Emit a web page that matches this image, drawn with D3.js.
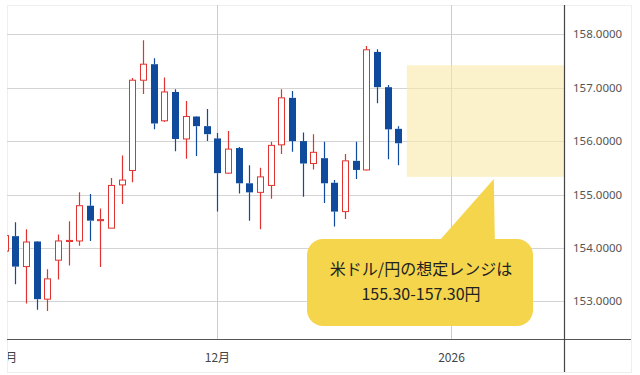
<!DOCTYPE html>
<html>
<head>
<meta charset="utf-8">
<script src="https://cdn.jsdelivr.net/npm/d3@7"></script>
<style>
  body { margin: 0; background: #fff; }
</style>
</head>
<body>
<div id="chart"></div>
<script>
// daily USD/JPY candles (weekdays only)
const dates = ["11/03","11/04","11/05","11/06","11/07","11/10","11/11","11/12","11/13","11/14",
  "11/17","11/18","11/19","11/20","11/21","11/24","11/25","11/26","11/27","11/28",
  "12/01","12/02","12/03","12/04","12/05","12/08","12/09","12/10","12/11","12/12",
  "12/15","12/16","12/17","12/18","12/19","12/22","12/23","12/24"];
const openVals  = [153.94,154.22,153.65,154.12,153.04,153.77,154.12,154.13,154.79,154.51,
  154.37,155.18,155.45,157.14,157.44,156.38,156.92,156.04,156.46,156.28,
  156.05,155.40,155.87,155.21,155.04,155.17,155.93,156.81,156.00,155.58,
  155.68,155.22,154.68,155.63,155.46,157.67,157.01,156.23];
const highVals  = [154.25,154.48,154.35,154.13,153.60,154.25,154.50,155.04,155.01,154.74,
  155.31,155.73,157.18,157.89,157.55,157.19,156.97,156.75,156.47,156.60,
  156.15,156.19,155.89,155.55,155.50,155.99,156.97,156.94,156.16,156.13,
  155.99,155.27,155.76,155.99,157.78,157.72,157.05,156.28];
const lowVals   = [153.90,153.32,152.96,152.84,152.82,153.41,153.67,154.04,154.13,153.64,
  154.37,154.82,155.23,156.88,156.22,156.36,155.81,155.67,155.72,156.00,
  154.68,155.39,155.02,154.51,154.35,154.92,155.76,155.80,154.96,155.47,
  154.84,154.40,154.54,155.29,155.45,156.71,155.66,155.55];
const closeVals = [154.23,153.65,154.11,153.04,153.42,154.13,154.14,154.79,154.51,154.53,
  155.17,155.27,157.14,157.44,156.33,156.92,156.04,156.46,156.28,156.13,
  155.40,155.85,155.21,155.04,155.33,155.92,156.81,156.00,155.58,155.79,
  155.21,154.68,155.63,155.46,157.71,157.01,156.22,155.96];

// axes
const yTicks = [153, 154, 155, 156, 157, 158];
const xTickIdx = [0, 20, 42];
const xTickLabels = ["11月", "12月", "2026"];

// forecast range (shaded zone) and callout
const zoneStartIdx = 37.8;
const zoneHigh = 157.42;
const zoneLow = 155.33;
const calloutLines = ["米ドル/円の想定レンジは", "155.30-157.30円"];

const W = 640, H = 375;
const plot = { left: 7, right: 564.5, top: 5, bottom: 339.5 };

const svg = d3.select("#chart").append("svg")
  .attr("width", W).attr("height", H);

// outer frame
svg.append("rect")
  .attr("x", 7.5).attr("y", 5.5)
  .attr("width", 624).attr("height", 367)
  .attr("fill", "#fff")
  .attr("stroke", "#eeeeee");

const x = d3.scaleLinear().domain([0, 37]).range([4.7, 398.3]);
const y = d3.scaleLinear().domain([153, 158]).range([301.3, 34.3]);

svg.append("clipPath").attr("id", "plotclip")
  .append("rect")
  .attr("x", plot.left).attr("y", plot.top)
  .attr("width", plot.right - plot.left).attr("height", plot.bottom - plot.top);

svg.append("clipPath").attr("id", "frameclip")
  .append("rect")
  .attr("x", 8).attr("y", 5).attr("width", 623).attr("height", 367);

const g = svg.append("g").attr("clip-path", "url(#plotclip)");

// horizontal grid
g.selectAll(".hgrid")
  .data(yTicks)
  .enter().append("line")
  .attr("x1", plot.left).attr("x2", plot.right)
  .attr("y1", d => Math.round(y(d)) + 0.5)
  .attr("y2", d => Math.round(y(d)) + 0.5)
  .attr("stroke", "#d4d4d4");

// vertical grid
g.selectAll(".vgrid")
  .data(xTickIdx)
  .enter().append("line")
  .attr("x1", d => Math.round(x(d)) + 0.5)
  .attr("x2", d => Math.round(x(d)) + 0.5)
  .attr("y1", plot.top).attr("y2", plot.bottom)
  .attr("stroke", "#cccccc");

// range zone
g.append("rect")
  .attr("x", x(zoneStartIdx))
  .attr("y", y(zoneHigh))
  .attr("width", plot.right - x(zoneStartIdx))
  .attr("height", y(zoneLow) - y(zoneHigh))
  .attr("fill", "#f9eaa9")
  .attr("opacity", 0.6);

// candles
const candles = dates.map((d, i) => ({
  date: d, i: i,
  open: openVals[i], high: highVals[i], low: lowVals[i], close: closeVals[i]
}));

const red = "#e0332f", blue = "#0f4a9c";

const cg = g.selectAll(".candle")
  .data(candles)
  .enter().append("g")
  .attr("class", "candle");

cg.each(function(d) {
  const el = d3.select(this);
  const cx = Math.round(x(d.i)) + 0.5;
  const up = d.close >= d.open;
  const col = up ? red : blue;
  const top = y(Math.max(d.open, d.close));
  const bot = y(Math.min(d.open, d.close));
  const bh = Math.max(bot - top, 1);
  // wicks
  el.append("line")
    .attr("x1", cx).attr("x2", cx)
    .attr("y1", y(d.high)).attr("y2", top)
    .attr("stroke", col).attr("stroke-width", 1.2);
  el.append("line")
    .attr("x1", cx).attr("x2", cx)
    .attr("y1", top + bh).attr("y2", y(d.low))
    .attr("stroke", col).attr("stroke-width", 1.2);
  if (up) {
    el.append("rect")
      .attr("x", cx - 3).attr("y", top)
      .attr("width", 6).attr("height", bh)
      .attr("fill", "#fff")
      .attr("stroke", col).attr("stroke-width", 1);
  } else {
    el.append("rect")
      .attr("x", cx - 3.5).attr("y", top)
      .attr("width", 7).attr("height", bh)
      .attr("fill", col);
  }
});

// axes lines
svg.append("line")
  .attr("x1", 7).attr("x2", 631)
  .attr("y1", plot.bottom).attr("y2", plot.bottom)
  .attr("stroke", "#555").attr("stroke-width", 1.2);
svg.append("line")
  .attr("x1", plot.right).attr("x2", plot.right)
  .attr("y1", plot.top).attr("y2", 372)
  .attr("stroke", "#444").attr("stroke-width", 1.2);

// y labels
svg.selectAll(".ylab")
  .data(yTicks)
  .enter().append("text")
  .attr("x", 573)
  .attr("y", d => y(d) + 4)
  .text(d => d.toFixed(4))
  .style("font-family", '"Noto Sans", sans-serif')
  .style("font-size", "11.5px")
  .attr("fill", "#555");

// x labels
svg.append("g").attr("clip-path", "url(#frameclip)")
  .selectAll(".xlab")
  .data(xTickIdx)
  .enter().append("text")
  .attr("x", d => x(d))
  .attr("y", 362)
  .attr("text-anchor", "middle")
  .text((d, i) => xTickLabels[i])
  .style("font-family", '"Noto Sans CJK JP", "Noto Sans", sans-serif')
  .style("font-size", "12px")
  .attr("fill", "#444");

// callout bubble with pointer to the zone
const bub = { x: 307, y: 239, w: 226, h: 87, r: 16 };
svg.append("path")
  .attr("d", `M440,${bub.y + 1} L${x(zoneStartIdx) + 87},179 L${x(zoneStartIdx) + 88},${bub.y + 1} Z`)
  .attr("fill", "#f4d54c");
svg.append("rect")
  .attr("x", bub.x).attr("y", bub.y)
  .attr("width", bub.w).attr("height", bub.h)
  .attr("rx", bub.r)
  .attr("fill", "#f4d54c");

svg.selectAll(".callout")
  .data(calloutLines)
  .enter().append("text")
  .attr("x", bub.x + bub.w / 2 + 1)
  .attr("y", (d, i) => 275 + i * 25)
  .attr("text-anchor", "middle")
  .text(d => d)
  .style("font-family", '"Noto Sans CJK JP", sans-serif')
  .style("font-size", "16px")
  .attr("fill", "#222");
</script>
</body>
</html>
